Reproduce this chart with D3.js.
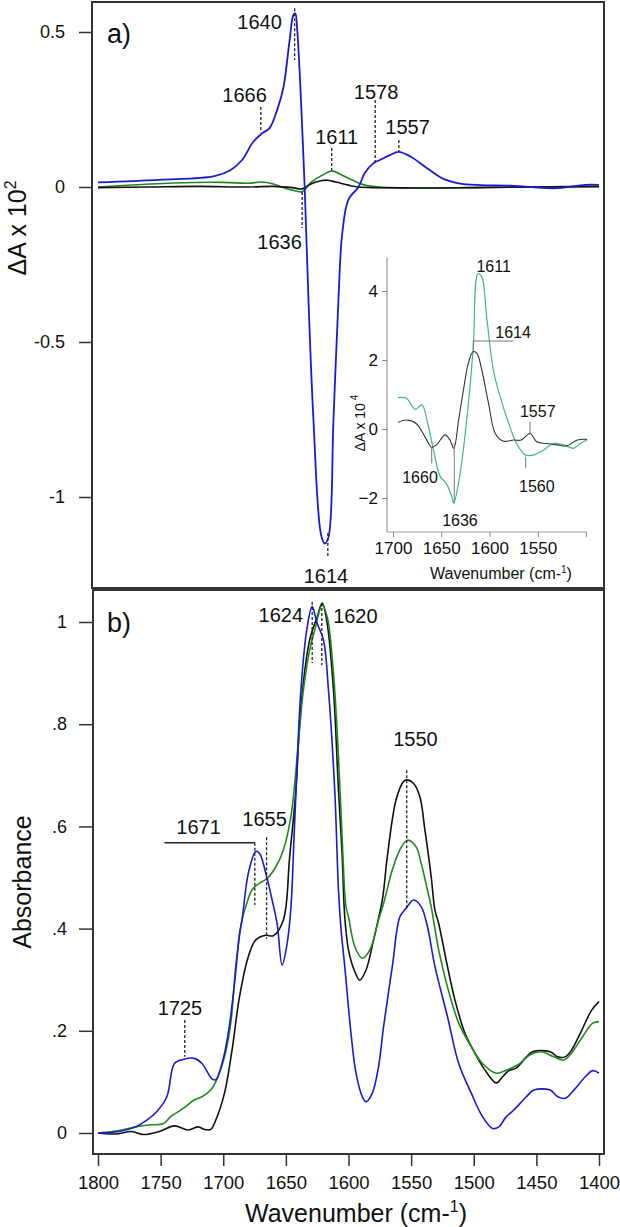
<!DOCTYPE html>
<html><head><meta charset="utf-8">
<script src="https://cdn.jsdelivr.net/npm/d3@7"></script>
<style>body{margin:0;background:#fff}svg{display:block;font-family:"Liberation Sans",Arial,sans-serif}</style>
</head><body>
<svg id="c" width="620" height="1227"></svg>
<script>
// ---------- DATA ----------
// Panel a) difference spectra [wavenumber, ΔA x 10^2]
const topBlue = [[1800,0.015],[1751,0.023],[1707,0.035],[1694,0.055],[1685,0.087],[1676,0.146],[1669,0.173],[1663,0.19],[1657,0.248],[1652,0.32],[1647,0.474],[1644,0.555],[1642.5,0.56],[1641,0.51],[1635,0],[1632,-0.36],[1628,-0.75],[1622,-1.12],[1619,-1.15],[1616,-1.13],[1612,-0.75],[1608,-0.36],[1605,-0.15],[1600,-0.04],[1592,0],[1587,0.045],[1580,0.077],[1575,0.087],[1567,0.103],[1560,0.113],[1550,0.097],[1537,0.06],[1525,0.028],[1512,0.012],[1495,0.006],[1470,0.004],[1436,-0.004],[1411,0.007],[1400,0.007]];
const topGreen = [[1800,0],[1765,0.008],[1740,0.013],[1700,0.015],[1680,0.012],[1670,0.016],[1660,0.01],[1650,-0.005],[1645,-0.01],[1637,-0.015],[1630,0.015],[1620,0.04],[1613,0.052],[1607,0.042],[1600,0.028],[1587,0.006],[1575,0],[1540,-0.003],[1500,-0.002],[1450,0],[1400,0.003]];
const topBlack = [[1800,-0.002],[1760,0],[1720,0.002],[1680,0],[1660,0.002],[1645,-0.002],[1637,-0.006],[1630,0.01],[1622,0.02],[1617,0.022],[1610,0.016],[1600,0.006],[1592,0],[1550,-0.003],[1500,-0.002],[1450,0],[1400,0.001]];
// Inset [wavenumber, ΔA x 10^4]
const insetBlack = [[1695,0.19],[1686,0.26],[1676,0.16],[1667,-0.22],[1660,-0.53],[1655,-0.46],[1646,-0.17],[1641,-0.32],[1637,-0.56],[1632,0.26],[1627,1.13],[1622,1.9],[1617,2.24],[1613,2.19],[1608,1.71],[1601,0.74],[1594,-0.13],[1586,-0.35],[1575,-0.32],[1567,-0.32],[1558,-0.13],[1551,-0.37],[1541,-0.42],[1530,-0.46],[1520,-0.49],[1509,-0.32],[1499,-0.3]];
const insetGreen = [[1695,0.91],[1686,0.89],[1677,0.57],[1670,0.7],[1664,0.16],[1658,-0.61],[1651,-1.38],[1645,-1.57],[1639,-1.96],[1637,-2.15],[1631,-1.38],[1624,0.16],[1617,2.29],[1612,4.5],[1608,4.41],[1603,3.26],[1596,1.71],[1589,0.94],[1580,0.16],[1572,-0.42],[1563,-0.75],[1554,-0.75],[1544,-0.61],[1534,-0.42],[1523,-0.46],[1513,-0.56],[1506,-0.42],[1499,-0.32]];
// Panel b) absorbance spectra
const botBlue = [[1800,0],[1783,0.003],[1770,0.012],[1761,0.025],[1753,0.042],[1745,0.071],[1739,0.136],[1732,0.144],[1723,0.146],[1717,0.136],[1709,0.106],[1706,0.104],[1701,0.136],[1696,0.195],[1691,0.293],[1687,0.39],[1685,0.417],[1680,0.508],[1674,0.551],[1671,0.547],[1666,0.508],[1661,0.456],[1657,0.41],[1653,0.329],[1649,0.371],[1646,0.44],[1643,0.606],[1638,0.867],[1633,0.99],[1629,1.03],[1625,0.997],[1620,0.965],[1616,0.867],[1611,0.671],[1608,0.476],[1606,0.4],[1603,0.326],[1598,0.195],[1594,0.117],[1589,0.071],[1586,0.061],[1581,0.078],[1576,0.13],[1572,0.208],[1565,0.326],[1559,0.423],[1554,0.44],[1548,0.456],[1542,0.443],[1537,0.404],[1531,0.326],[1521,0.228],[1512,0.136],[1502,0.078],[1493,0.032],[1485,0.009],[1480,0.012],[1474,0.032],[1468,0.045],[1458,0.071],[1452,0.084],[1439,0.084],[1433,0.071],[1427,0.068],[1420,0.084],[1411,0.11],[1405,0.122],[1400,0.117]];
const botBlack = [[1800,0],[1786,-0.002],[1773,0.003],[1764,-0.003],[1751,0.003],[1739,0.014],[1728,0.006],[1720,0.012],[1715,0.007],[1710,0.007],[1706,0.025],[1699,0.078],[1693,0.162],[1687,0.267],[1680,0.345],[1674,0.378],[1666,0.387],[1660,0.386],[1652,0.417],[1647,0.54],[1642,0.671],[1638,0.834],[1631,0.965],[1625,1.01],[1621,1.037],[1617,0.997],[1612,0.867],[1608,0.671],[1605,0.54],[1603,0.423],[1600,0.358],[1595,0.316],[1591,0.299],[1586,0.319],[1580,0.378],[1573,0.456],[1569,0.541],[1562,0.652],[1556,0.688],[1553,0.691],[1548,0.684],[1543,0.658],[1539,0.593],[1534,0.502],[1531,0.436],[1528,0.41],[1521,0.326],[1515,0.26],[1507,0.195],[1499,0.156],[1491,0.123],[1482,0.098],[1477,0.11],[1472,0.122],[1466,0.127],[1458,0.149],[1453,0.159],[1439,0.159],[1433,0.149],[1427,0.149],[1422,0.162],[1414,0.2],[1406,0.24],[1400,0.257]];
const botGreen = [[1800,0],[1783,0.005],[1770,0.012],[1758,0.016],[1748,0.018],[1742,0.032],[1732,0.048],[1723,0.065],[1717,0.071],[1710,0.084],[1706,0.1],[1699,0.149],[1694,0.215],[1690,0.326],[1685,0.417],[1682,0.443],[1677,0.476],[1671,0.489],[1665,0.498],[1658,0.521],[1652,0.554],[1646,0.619],[1641,0.736],[1636,0.867],[1631,0.945],[1627,0.984],[1621,1.033],[1617,1.01],[1612,0.9],[1608,0.736],[1605,0.573],[1602,0.443],[1600,0.423],[1595,0.365],[1589,0.342],[1583,0.358],[1576,0.417],[1572,0.449],[1565,0.515],[1559,0.554],[1553,0.573],[1546,0.56],[1542,0.528],[1537,0.476],[1534,0.443],[1528,0.358],[1521,0.286],[1512,0.215],[1502,0.169],[1493,0.136],[1482,0.117],[1474,0.123],[1465,0.133],[1455,0.153],[1446,0.159],[1436,0.149],[1428,0.143],[1422,0.156],[1413,0.189],[1405,0.215],[1400,0.218]];

// tick values / labels
const topYTicks = [0.5, 0, -0.5, -1];
const topYLabels = ["0.5", "0", "-0.5", "-1"];
const botYTicks = [0, 0.2, 0.4, 0.6, 0.8, 1];
const botYLabels = ["0", ".2", ".4", ".6", ".8", "1"];
const botXTicks = [1800,1750,1700,1650,1600,1550,1500,1450,1400];
const insetYTicks = [-2, 0, 2, 4];
const insetXTicks = [1700,1650,1600,1550,1500];
const insetXLabels = ["1700","1650","1600","1550",""];

// annotations: text, line wavenumber, line y-range, label position (data units)
const topAnn = [
  {t:"1640", lx:1643, y1:0.577, y2:0.41, tx:1671, ty:0.532},
  {t:"1666", lx:1670, y1:0.258, y2:0.177, tx:1683, ty:0.297},
  {t:"1611", lx:1613.4, y1:0.126, y2:0.055, tx:1609.4, ty:0.161},
  {t:"1578", lx:1578.7, y1:0.281, y2:0.077, tx:1578, ty:0.306},
  {t:"1557", lx:1559.8, y1:0.152, y2:0.113, tx:1552.8, ty:0.194},
  {t:"1636", lx:1637, y1:-0.016, y2:-0.132, tx:1655, ty:-0.177},
  {t:"1614", lx:1616.5, y1:-1.116, y2:-1.197, tx:1618, ty:-1.255}
];
const botAnn = [
  {t:"1624", lx:1629, y1:1.039, y2:0.92, tx:1654, ty:1.014},
  {t:"1620", lx:1621.3, y1:1.037, y2:0.916, tx:1594.5, ty:1.012},
  {t:"1550", lx:1553.5, y1:0.71, y2:0.436, tx:1546.5, ty:0.771},
  {t:"1671", lx:1674.8, y1:0.568, y2:0.446, tx:1719.7, ty:0.599, hx:1747},
  {t:"1655", lx:1665.4, y1:0.579, y2:0.38, tx:1667, ty:0.614},
  {t:"1725", lx:1730.7, y1:0.221, y2:0.149, tx:1734.6, ty:0.245}
];
const insetAnn = [
  {t:"1611", lx:null, tx:1613.5, ty:4.7, anchor:"start"},
  {t:"1614", lx:1616.8, y1:2.55, y2:2.29, hx:1575.3, tx:1575.6, ty:2.81},
  {t:"1557", lx:1558, y1:0.21, y2:-0.12, tx:1550, ty:0.52},
  {t:"1660", lx:1659.9, y1:-0.53, y2:-1.0, tx:1672, ty:-1.41},
  {t:"1636", lx:1636.5, y1:-0.41, y2:-2.15, tx:1630.6, ty:-2.64},
  {t:"1560", lx:1562.5, y1:-0.8, y2:-1.14, tx:1551, ty:-1.67}
];

// ---------- DRAW ----------
const svg = d3.select("#c");
const FONT = '"Liberation Sans",Arial,sans-serif';
const x = d3.scaleLinear().domain([1800, 1400]).range([98, 599]);
const yT = d3.scaleLinear().domain([0.5, -1]).range([32, 497]);
const yB = d3.scaleLinear().domain([0, 1]).range([1133, 622]);
const xI = d3.scaleLinear().domain([1700, 1500]).range([393, 586]);
const yI = d3.scaleLinear().domain([0, 2]).range([429, 360]);

const curve = d3.curveCatmullRom.alpha(0.5);
function drawLine(data, xs, ys, color, w) {
  svg.append("path").datum(data)
    .attr("d", d3.line().x(d=>xs(d[0])).y(d=>ys(d[1])).curve(curve))
    .attr("fill","none").attr("stroke",color).attr("stroke-width",w).attr("stroke-linejoin","round");
}

// frames
svg.append("rect").attr("x",92).attr("y",2).attr("width",512).attr("height",586)
  .attr("fill","none").attr("stroke","#333").attr("stroke-width",2);
svg.append("rect").attr("x",93).attr("y",590).attr("width",511).attr("height",564)
  .attr("fill","none").attr("stroke","#333").attr("stroke-width",2);

// top y axis
const gTY = svg.append("g").attr("transform","translate(92,0)")
  .call(d3.axisLeft(yT).tickValues(topYTicks).tickFormat((d,i)=>topYLabels[i]).tickSize(13).tickPadding(14));
gTY.select(".domain").remove();
gTY.selectAll("line").attr("stroke","#333").attr("stroke-width",1.5);
gTY.selectAll("text").attr("font-size",18).attr("font-family",FONT).attr("fill","#111");

// bottom y axis
const gBY = svg.append("g").attr("transform","translate(92,0)")
  .call(d3.axisLeft(yB).tickValues(botYTicks).tickFormat((d,i)=>botYLabels[i]).tickSize(13).tickPadding(12));
gBY.select(".domain").remove();
gBY.selectAll("line").attr("stroke","#333").attr("stroke-width",1.5);
gBY.selectAll("text").attr("font-size",18).attr("font-family",FONT).attr("fill","#111");

// bottom x axis
const gBX = svg.append("g").attr("transform","translate(0,1155)")
  .call(d3.axisBottom(x).tickValues(botXTicks).tickFormat(d3.format("d")).tickSize(11).tickPadding(10));
gBX.select(".domain").remove();
gBX.selectAll("line").attr("stroke","#333").attr("stroke-width",1.5);
gBX.selectAll("text").attr("font-size",18.5).attr("font-family",FONT).attr("fill","#111");

// axis titles
const t1 = svg.append("text").attr("transform","translate(26,228) rotate(-90)")
  .attr("text-anchor","middle").attr("font-size",25).attr("font-family",FONT).attr("fill","#111");
t1.append("tspan").text("ΔA x 10");
t1.append("tspan").text("2").attr("font-size",16).attr("dy",-10);
svg.append("text").attr("transform","translate(31,882) rotate(-90)")
  .attr("text-anchor","middle").attr("font-size",25).attr("font-family",FONT).attr("fill","#111").text("Absorbance");
const t3 = svg.append("text").attr("x",356).attr("y",1222).attr("text-anchor","middle")
  .attr("font-size",25).attr("font-family",FONT).attr("fill","#111");
t3.append("tspan").text("Wavenumber (cm-");
t3.append("tspan").text("1").attr("font-size",16).attr("dy",-10);
t3.append("tspan").text(")").attr("dy",10);

// panel letters
svg.append("text").attr("x",107).attr("y",43).attr("font-size",27).attr("font-family",FONT).attr("fill","#111").text("a)");
svg.append("text").attr("x",107).attr("y",632).attr("font-size",27).attr("font-family",FONT).attr("fill","#111").text("b)");

// curves top
drawLine(topGreen, x, yT, "#1e8a1e", 1.6);
drawLine(topBlack, x, yT, "#111", 1.6);
drawLine(topBlue, x, yT, "#1a1ad0", 1.8);

// curves bottom
drawLine(botBlack, x, yB, "#111", 1.6);
drawLine(botGreen, x, yB, "#1e8a1e", 1.6);
drawLine(botBlue, x, yB, "#1a1ad0", 1.6);

// annotations main
function ann(list, ys) {
  list.forEach(a=>{
    if (a.hx !== undefined) {
      svg.append("line").attr("x1",x(a.hx)).attr("x2",x(a.lx)).attr("y1",ys(a.y1)).attr("y2",ys(a.y1))
        .attr("stroke","#222").attr("stroke-width",1.5);
    }
    svg.append("line").attr("x1",x(a.lx)).attr("x2",x(a.lx)).attr("y1",ys(a.y1)).attr("y2",ys(a.y2))
      .attr("stroke","#222").attr("stroke-width",1.3).attr("stroke-dasharray","3,2");
    svg.append("text").attr("x",x(a.tx)).attr("y",ys(a.ty)).attr("dy","0.35em").attr("text-anchor","middle")
      .attr("font-size",20).attr("font-family",FONT).attr("fill","#111").text(a.t);
  });
}
ann(topAnn, yT);
ann(botAnn, yB);

// ---------- INSET ----------
const gIY = svg.append("g").attr("transform","translate(387,0)")
  .call(d3.axisLeft(yI).tickValues(insetYTicks).tickFormat(d3.format("d")).tickSize(5).tickPadding(4));
gIY.select(".domain").remove();
gIY.selectAll("line").attr("stroke","#888");
gIY.selectAll("text").attr("font-size",17).attr("font-family",FONT).attr("fill","#111");
const gIX = svg.append("g").attr("transform","translate(0,532)")
  .call(d3.axisBottom(xI).tickValues(insetXTicks).tickFormat((d,i)=>insetXLabels[i]).tickSize(5).tickPadding(5));
gIX.select(".domain").remove();
gIX.selectAll("line").attr("stroke","#888");
gIX.selectAll("text").attr("font-size",17).attr("font-family",FONT).attr("fill","#111");
svg.append("line").attr("x1",387).attr("x2",387).attr("y1",258).attr("y2",532).attr("stroke","#999").attr("stroke-width",1.2);
svg.append("line").attr("x1",387).attr("x2",587).attr("y1",532).attr("y2",532).attr("stroke","#999").attr("stroke-width",1.2);

const it1 = svg.append("text").attr("transform","translate(365,423) rotate(-90)")
  .attr("text-anchor","middle").attr("font-size",14).attr("font-family",FONT).attr("fill","#111");
it1.append("tspan").text("ΔA x 10");
it1.append("tspan").text("4").attr("font-size",10).attr("dy",-7).attr("dx",3);
const it2 = svg.append("text").attr("x",501).attr("y",579).attr("text-anchor","middle")
  .attr("font-size",16).attr("font-family",FONT).attr("fill","#111");
it2.append("tspan").text("Wavenumber (cm-");
it2.append("tspan").text("1").attr("font-size",10).attr("dy",-6);
it2.append("tspan").text(")").attr("dy",6);

drawLine(insetGreen, xI, yI, "#3dbb78", 1.2);
drawLine(insetBlack, xI, yI, "#333", 1.1);

insetAnn.forEach(a=>{
  if (a.lx !== null) {
    svg.append("line").attr("x1",xI(a.lx)).attr("x2",xI(a.lx)).attr("y1",yI(a.y1)).attr("y2",yI(a.y2))
      .attr("stroke","#777").attr("stroke-width",1);
    if (a.hx !== undefined) {
      svg.append("line").attr("x1",xI(a.lx)).attr("x2",xI(a.hx)).attr("y1",yI(a.y1)).attr("y2",yI(a.y1))
        .attr("stroke","#777").attr("stroke-width",1);
    }
  }
  svg.append("text").attr("x",xI(a.tx)).attr("y",yI(a.ty)).attr("dy","0.35em")
    .attr("text-anchor",a.anchor||"middle").attr("font-size",16).attr("font-family",FONT).attr("fill","#111").text(a.t);
});
</script>
</body></html>
